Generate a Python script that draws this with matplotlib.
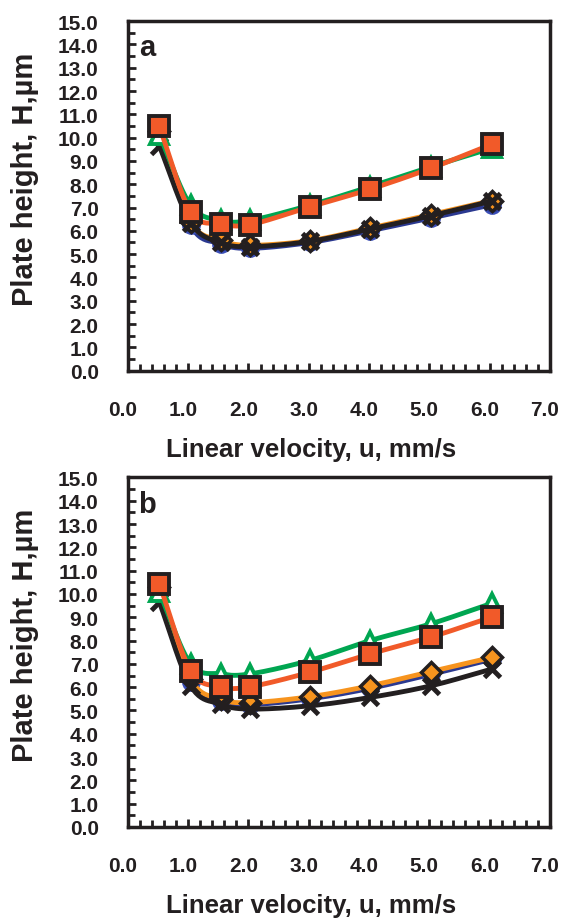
import numpy as np
import matplotlib
matplotlib.use("Agg")
import matplotlib.pyplot as plt
import matplotlib.transforms as mtransforms
from matplotlib.ticker import MultipleLocator, FormatStrFormatter

plt.rcParams['font.family'] = ['Liberation Sans', 'DejaVu Sans']
plt.rcParams['font.weight'] = 'bold'

# linear velocity, mm/s
u = [0.52, 1.04, 1.54, 2.03, 3.02, 4.02, 5.03, 6.04]

# panel a
a_blue = [10.35, 6.25, 5.45, 5.25, 5.50, 6.00, 6.55, 7.12]
a_orange = [10.30, 6.40, 5.60, 5.38, 5.58, 6.12, 6.70, 7.30]
a_black = [9.65, 6.35, 5.50, 5.32, 5.55, 6.08, 6.65, 7.28]
a_green = [10.12, 7.10, 6.45, 6.45, 7.10, 7.90, 8.75, 9.55]
a_red = [10.48, 6.82, 6.31, 6.27, 7.03, 7.79, 8.69, 9.72]

# panel b
b_blue = [10.30, 6.20, 5.40, 5.25, 5.50, 5.95, 6.55, 7.20]
b_orange = [10.30, 6.35, 5.49, 5.34, 5.59, 6.06, 6.67, 7.28]
b_black = [9.66, 6.06, 5.27, 5.06, 5.20, 5.56, 6.06, 6.78]
b_green = [10.08, 7.00, 6.57, 6.57, 7.15, 8.00, 8.72, 9.60]
b_red = [10.44, 6.71, 6.02, 6.02, 6.64, 7.43, 8.15, 9.01]

BLUE = '#2b3990'
ORANGE = '#f7941e'
BLACK = '#231f20'
GREEN = '#00a651'
RED = '#f15a29'


def smooth(x, y, n=24):
    # Catmull-Rom curve through the points, like Excel's smoothed lines
    x = np.asarray(x, float)
    y = np.asarray(y, float)
    px = np.concatenate([[2 * x[0] - x[1]], x, [2 * x[-1] - x[-2]]])
    py = np.concatenate([[2 * y[0] - y[1]], y, [2 * y[-1] - y[-2]]])
    xs, ys = [], []
    t = np.linspace(0, 1, n)
    for i in range(1, len(px) - 2):
        for arr, out in ((px, xs), (py, ys)):
            p0, p1, p2, p3 = arr[i - 1], arr[i], arr[i + 1], arr[i + 2]
            out.extend(0.5 * (2 * p1 + (-p0 + p2) * t
                              + (2 * p0 - 5 * p1 + 4 * p2 - p3) * t ** 2
                              + (-p0 + 3 * p1 - 3 * p2 + p3) * t ** 3))
    return xs, ys


def draw_panel(fig, ax, blue, orange, black, green, red, letter):
    sx, sy = smooth(u, blue)
    ax.plot(sx, sy, color=BLUE, lw=3.5, zorder=2)
    ax.plot(u, blue, 'o', ms=12, mfc=BLUE, mec='#3b4fb8', mew=1.5, zorder=2)

    sx, sy = smooth(u, orange)
    ax.plot(sx, sy, color=ORANGE, lw=3.5, zorder=3)
    ax.plot(u, orange, 'D', ms=10, mfc=ORANGE, mec=BLACK, mew=2.5, zorder=3)

    sx, sy = smooth(u, black)
    ax.plot(sx, sy, color=BLACK, lw=3.5, zorder=4)
    ax.plot(u, black, 'x', ms=11, mec=BLACK, mew=3.5, zorder=4)

    sx, sy = smooth(u, green)
    ax.plot(sx, sy, color=GREEN, lw=3.5, zorder=5)
    ax.plot(u, green, '^', ms=13, mfc='white', mec=GREEN, mew=2.8, zorder=5)

    sx, sy = smooth(u, red)
    ax.plot(sx, sy, color=RED, lw=3.5, zorder=6)
    ax.plot(u, red, 's', ms=14, mfc=RED, mec=BLACK, mew=2.8, zorder=6)

    ax.set_xlim(0, 7)
    ax.set_ylim(0, 15)
    ax.xaxis.set_major_locator(MultipleLocator(1))
    ax.xaxis.set_minor_locator(MultipleLocator(0.2))
    ax.yaxis.set_major_locator(MultipleLocator(1))
    ax.yaxis.set_minor_locator(MultipleLocator(0.5))
    ax.xaxis.set_major_formatter(FormatStrFormatter('%.1f'))
    ax.yaxis.set_major_formatter(FormatStrFormatter('%.1f'))
    ax.tick_params(which='both', direction='in', width=2, colors=BLACK,
                   top=False, right=False)
    ax.tick_params(which='major', length=6, labelsize=15)
    ax.tick_params(which='minor', length=5)
    ax.tick_params(axis='x', which='major', pad=21)
    ax.tick_params(axis='y', which='major', pad=21)
    shift = mtransforms.ScaledTranslation(-5 / 100, 0, fig.dpi_scale_trans)
    for lab in ax.get_xticklabels():
        lab.set_transform(lab.get_transform() + shift)
    for lab in ax.get_xticklabels() + ax.get_yticklabels():
        lab.set_fontweight('bold')
        lab.set_color(BLACK)
    for sp in ax.spines.values():
        sp.set_linewidth(2.5)
        sp.set_color(BLACK)
    ax.set_xlabel('Linear velocity, u, mm/s', fontsize=18.5, fontweight='bold',
                  color=BLACK)
    ax.xaxis.set_label_coords(0.434, -0.19)
    ax.set_ylabel('Plate height, H,\u00b5m', fontsize=21, fontweight='bold',
                  color=BLACK)
    ax.yaxis.set_label_coords(-0.21, 0.55)
    ax.text(0.045, 0.925, letter, transform=ax.transAxes, fontsize=21,
            fontweight='bold', color=BLACK, ha='center', va='center')


fig = plt.figure(figsize=(5.71, 9.20), dpi=100)
ax_a = fig.add_axes([0.224, 0.596, 0.739, 0.380])
ax_b = fig.add_axes([0.224, 0.100, 0.739, 0.380])

draw_panel(fig, ax_a, a_blue, a_orange, a_black, a_green, a_red, 'a')
draw_panel(fig, ax_b, b_blue, b_orange, b_black, b_green, b_red, 'b')

fig.savefig('out.png', dpi=100)
